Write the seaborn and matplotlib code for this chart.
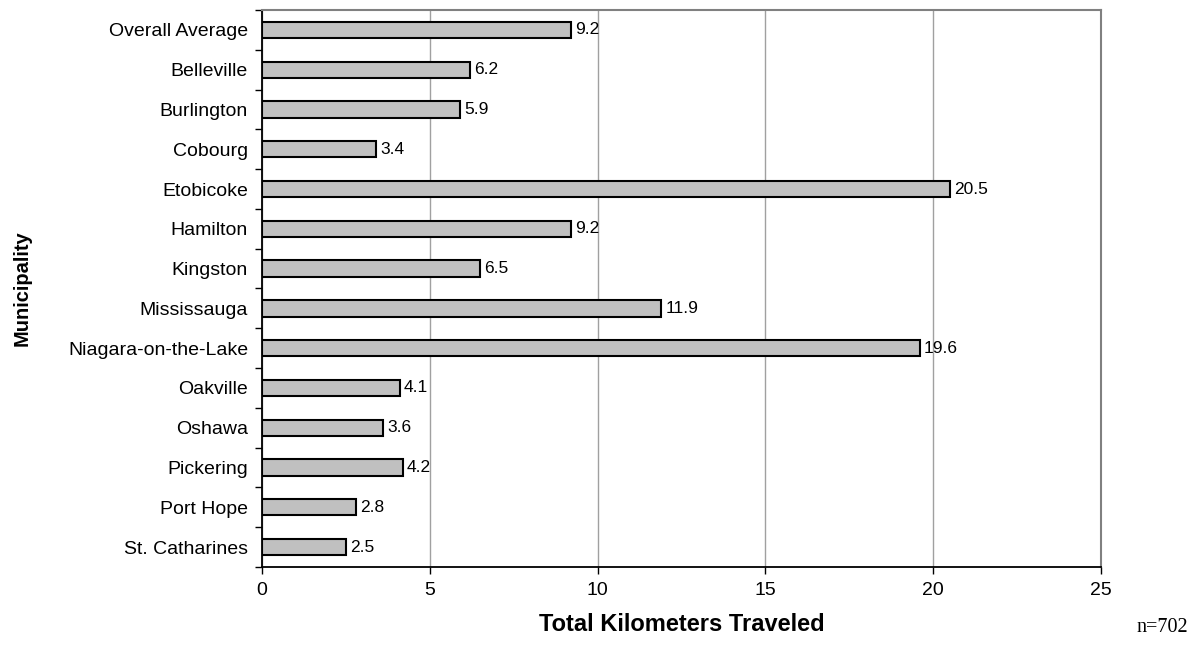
import matplotlib
matplotlib.use("Agg")
import matplotlib.pyplot as plt
import numpy as np
import pandas as pd
import seaborn as sns
from matplotlib.ticker import FixedLocator

municipalities = [
    "Overall Average", "Belleville", "Burlington", "Cobourg", "Etobicoke",
    "Hamilton", "Kingston", "Mississauga", "Niagara-on-the-Lake", "Oakville",
    "Oshawa", "Pickering", "Port Hope", "St. Catharines",
]
km_traveled = [9.2, 6.2, 5.9, 3.4, 20.5, 9.2, 6.5, 11.9, 19.6, 4.1, 3.6, 4.2, 2.8, 2.5]
x_ticks = [0, 5, 10, 15, 20, 25]

sns.set_style("white")
plt.rcParams["font.family"] = ["Liberation Sans", "DejaVu Sans"]
plt.rcParams["text.color"] = "black"
plt.rcParams["xtick.color"] = "black"
plt.rcParams["ytick.color"] = "black"
plt.rcParams["axes.labelcolor"] = "black"

df = pd.DataFrame({"Municipality": municipalities, "km": km_traveled})

fig = plt.figure(figsize=(11.94, 6.48), dpi=100)
ax = fig.add_axes([0.2194, 0.125, 0.7027, 0.8596])

sns.barplot(data=df, x="km", y="Municipality", orient="h", color="#C0C0C0",
            edgecolor="black", linewidth=1.5, width=0.41, saturation=1, ax=ax)

ax.set_xlim(0, 25)
ax.set_ylim(len(municipalities) - 0.5, -0.5)
ax.set_xticks(x_ticks)
ax.set_xticklabels([str(t) for t in x_ticks], fontsize=14)
ax.tick_params(axis="x", bottom=True, length=5, width=1, color="black",
               direction="out", pad=6)

# Category labels without marks; marks placed at the boundaries between categories
ax.tick_params(axis="y", which="major", left=True, length=0, labelsize=14, pad=10)
ax.yaxis.set_minor_locator(FixedLocator(np.arange(-0.5, len(municipalities), 1.0)))
ax.tick_params(axis="y", which="minor", left=True, length=5, width=1,
               color="black", direction="out")

ax.grid(axis="x", color="#A0A0A0", linewidth=1)
ax.set_axisbelow(True)

for side in ("top", "right"):
    ax.spines[side].set_visible(True)
    ax.spines[side].set_color("#808080")
    ax.spines[side].set_linewidth(1.5)
for side in ("left", "bottom"):
    ax.spines[side].set_color("black")
    ax.spines[side].set_linewidth(1.3)

for i, v in enumerate(km_traveled):
    ax.annotate(f"{v}", xy=(v, i), xytext=(3, 0), textcoords="offset points",
                va="center", ha="left", fontsize=12.5)

ax.set_xlabel("Total Kilometers Traveled", fontsize=17, fontweight="bold", va="center")
ax.xaxis.set_label_coords(0.5, -0.104)
ax.set_ylabel("Municipality", fontsize=14.5, fontweight="bold", va="center")
ax.yaxis.set_label_coords(-0.286, 0.5)

fig.text(0.9732, 0.032, "n=702", fontsize=14.5, family=["Liberation Serif", "DejaVu Serif"],
         ha="center", va="center")

fig.savefig("out.png", dpi=100)
